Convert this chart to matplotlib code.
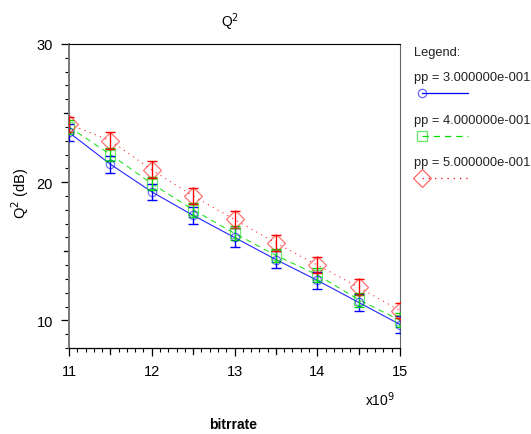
import matplotlib
matplotlib.use("Agg")
import matplotlib.pyplot as plt
import matplotlib.transforms as mtransforms
from matplotlib.lines import Line2D

plt.rcParams['font.family'] = ['Liberation Sans', 'DejaVu Sans']

# Data
bitrate = [11.0, 11.5, 12.0, 12.5, 13.0, 13.5, 14.0, 14.5, 15.0]  # x1e9
q_pp3 = [23.6, 21.3, 19.3, 17.6, 16.0, 14.4, 12.9, 11.3, 9.7]
q_pp4 = [24.0, 22.0, 19.9, 18.0, 16.3, 14.7, 13.3, 11.5, 10.0]
q_pp5 = [24.2, 23.0, 20.9, 19.0, 17.3, 15.6, 14.0, 12.4, 10.7]
err_pp3 = [0.6, 0.6, 0.6, 0.6, 0.7, 0.6, 0.6, 0.6, 0.6]
err_pp4 = [0.5, 0.5, 0.5, 0.5, 0.5, 0.5, 0.5, 0.5, 0.5]
err_pp5 = [0.55, 0.6, 0.6, 0.55, 0.6, 0.55, 0.6, 0.6, 0.55]
legend_labels = ["pp = 3.000000e-001", "pp = 4.000000e-001", "pp = 5.000000e-001"]

W, H = 531, 435
fig = plt.figure(figsize=(W / 100, H / 100), dpi=100)
ax = fig.add_axes([69 / W, 1 - 349 / H, (400 - 69) / W, (349 - 45) / H])

series = [
    (q_pp3, err_pp3, '#0000ff', '-', 'o', 6),
    (q_pp4, err_pp4, '#00dd00', (0, (5, 4)), 's', 6.5),
    (q_pp5, err_pp5, '#ff0000', (0, (1, 4)), 'D', 9),
]
for q, e, c, ls, m, ms in series:
    ax.plot(bitrate, q, color=c, linestyle=ls, linewidth=0.8, alpha=0.85, zorder=2)
    ax.errorbar(bitrate, q, yerr=e, fmt='none', ecolor=c, elinewidth=1.0,
                capsize=3.5, capthick=1.0, zorder=3)
    ax.plot(bitrate, q, linestyle='none', marker=m, markersize=ms,
            markerfacecolor='none', markeredgecolor=c, markeredgewidth=0.9,
            alpha=0.55, zorder=4)

ax.set_xlim(11, 15)
ax.set_ylim(8, 30)
ax.set_xticks([11, 12, 13, 14, 15])
ax.set_xticklabels(['11', '12', '13', '14', '15'])
ax.set_xticks([11 + 0.1 * i for i in range(41)], minor=True)
ax.set_yticks([10, 20, 30])
ax.set_yticks(list(range(8, 31)), minor=True)
ax.tick_params(axis='both', which='major', direction='out', length=5.5, width=0.9,
               labelsize=10.5, pad=6)
ax.tick_params(axis='both', which='minor', direction='out', length=3, width=0.8)

for s in ['top', 'right']:
    ax.spines[s].set_linewidth(0.8)
ax.spines['right'].set_color('#666666')
ax.spines['left'].set_color('#777777')
ax.spines['left'].set_linewidth(1.4)
ax.spines['bottom'].set_linewidth(0.9)

# medium ticks at half units
axh = 349 - 45
axw = 400 - 69
tb = mtransforms.blended_transform_factory(ax.transData, ax.transAxes)
for xv in [11.5, 12.5, 13.5, 14.5]:
    ax.add_line(Line2D([xv, xv], [0, -5.5 / axh], transform=tb, color='black',
                       linewidth=0.9, clip_on=False))
tl = mtransforms.blended_transform_factory(ax.transAxes, ax.transData)
for yv in [15, 25]:
    ax.add_line(Line2D([0, -5.5 / axw], [yv, yv], transform=tl, color='black',
                       linewidth=0.9, clip_on=False))

# Titles and labels
fig.text(230 / W, 1 - 22 / H, 'Q$^2$', ha='center', va='center', fontsize=10)
fig.text(20 / W, 1 - 193 / H, 'Q$^2$ (dB)', ha='center', va='center', fontsize=10.5,
         rotation=90)
fig.text(233 / W, 1 - 425 / H, 'bitrrate', ha='center', va='center', fontsize=10,
         fontweight='bold')
fig.text(380 / W, 1 - 400 / H, 'x10$^9$', ha='center', va='center', fontsize=10)

# Legend, drawn by hand
fig.text(414 / W, 1 - 53 / H, 'Legend:', ha='left', va='center', fontsize=9.3,
         color='#222222')
leg_rows = [(78, 94), (121, 137), (163, 179)]
for (ty, my), lab, (q, e, c, ls, m, ms) in zip(leg_rows, legend_labels, series):
    fig.text(414 / W, 1 - ty / H, lab, ha='left', va='center', fontsize=9.3,
             color='#222222')
    fig.add_artist(Line2D([422 / W, 468 / W], [1 - my / H, 1 - my / H],
                          transform=fig.transFigure, color=c, linestyle=ls,
                          linewidth=0.9))
    fig.add_artist(Line2D([422 / W], [1 - my / H], transform=fig.transFigure,
                          marker=m, markersize=ms, markerfacecolor='none',
                          markeredgecolor=c, markeredgewidth=0.9, alpha=0.6,
                          linestyle='none'))

fig.savefig('out.png', dpi=100)
